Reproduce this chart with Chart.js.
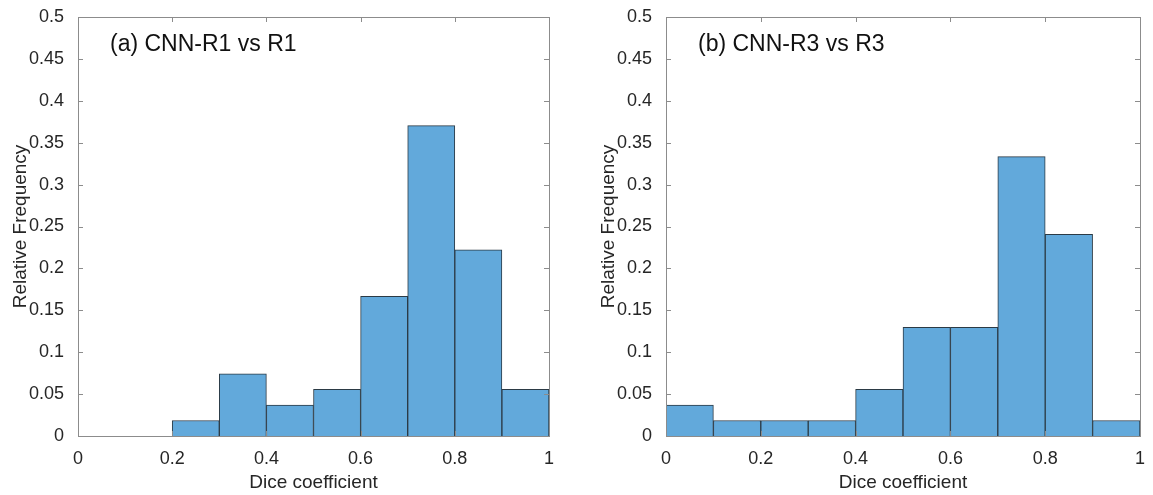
<!DOCTYPE html>
<html>
<head>
<meta charset="utf-8">
<script src="https://cdn.jsdelivr.net/npm/chart.js@4.4.0/dist/chart.umd.min.js"></script>
<style>
  body { margin: 0; background: #fff; width: 1153px; height: 495px; position: relative; overflow: hidden; }
  .box { position: absolute; top: 0; height: 495px; }
  #boxA { left: 0; width: 576px; }
  #boxB { left: 588px; width: 565px; }
</style>
</head>
<body>
<div class="box" id="boxA"><canvas id="chartA" width="576" height="495"></canvas></div>
<div class="box" id="boxB"><canvas id="chartB" width="565" height="495"></canvas></div>
<script>
// bin centres (width 0.1) and relative frequencies
const binCenters = [0.05, 0.15, 0.25, 0.35, 0.45, 0.55, 0.65, 0.75, 0.85, 0.95];
const freqR1 = [0, 0, 0.0185, 0.0741, 0.037, 0.0556, 0.1667, 0.3704, 0.2222, 0.0556];
const freqR3 = [0.037, 0.0185, 0.0185, 0.0185, 0.0556, 0.1296, 0.1296, 0.3333, 0.2407, 0.0185];
const xTicks = [0, 0.2, 0.4, 0.6, 0.8, 1];
const yTicks = [0, 0.05, 0.1, 0.15, 0.2, 0.25, 0.3, 0.35, 0.4, 0.45, 0.5];

const FONT = "'Liberation Sans', Arial, sans-serif";
const TEXT = "#262626";
const AXIS = "#8c8c8c";

// matlab-like box with inward ticks + panel label
const boxPlugin = {
  id: "boxPlugin",
  afterDraw(chart, args, opts) {
    const { ctx, chartArea: a, scales } = chart;
    ctx.save();
    ctx.strokeStyle = AXIS;
    ctx.lineWidth = 1;
    ctx.strokeRect(a.left + 0.5, a.top + 0.5, a.right - a.left, a.bottom - a.top);
    const t = 5;
    ctx.beginPath();
    xTicks.forEach((v) => {
      const px = Math.round(scales.x.getPixelForValue(v)) + 0.5;
      ctx.moveTo(px, a.bottom); ctx.lineTo(px, a.bottom - t);
      ctx.moveTo(px, a.top); ctx.lineTo(px, a.top + t);
    });
    yTicks.forEach((v) => {
      const py = Math.round(scales.y.getPixelForValue(v)) + 0.5;
      ctx.moveTo(a.left, py); ctx.lineTo(a.left + t, py);
      ctx.moveTo(a.right, py); ctx.lineTo(a.right - t, py);
    });
    ctx.stroke();
    ctx.fillStyle = "#111";
    ctx.font = "23px " + FONT;
    ctx.textBaseline = "middle";
    ctx.fillText(opts.label, a.left + 32, a.top + 28);
    ctx.restore();
  },
};

function makeChart(id, values, label, rightPad) {
  const ctx = document.getElementById(id).getContext("2d");
  return new Chart(ctx, {
    type: "bar",
    data: {
      datasets: [
        {
          data: binCenters.map((c, i) => ({ x: c, y: values[i] })),
          backgroundColor: "#62a9db",
          borderColor: "#2b3a45",
          borderWidth: 1,
          borderSkipped: "bottom",
          barPercentage: 1,
          categoryPercentage: 1,
        },
      ],
    },
    options: {
      responsive: false,
      animation: false,
      layout: { padding: { left: 9, right: rightPad, top: 17, bottom: 1 } },
      plugins: {
        legend: { display: false },
        tooltip: { enabled: false },
        boxPlugin: { label },
      },
      scales: {
        x: {
          type: "linear",
          offset: false,
          min: 0,
          max: 1,
          afterBuildTicks: (s) => { s.ticks = xTicks.map((v) => ({ value: v })); },
          afterFit: (s) => { s.height = 58; },
          grid: { display: false },
          border: { display: false },
          ticks: { color: TEXT, font: { family: FONT, size: 18 }, padding: 4, maxRotation: 0,
            callback: (v) => String(+v.toFixed(2)) },
          title: { display: true, text: "Dice coefficient", color: TEXT,
            font: { family: FONT, size: 19 }, padding: 0 },
        },
        y: {
          min: 0,
          max: 0.5,
          afterBuildTicks: (s) => { s.ticks = yTicks.map((v) => ({ value: v })); },
          afterFit: (s) => { s.width = 69; },
          grid: { display: false },
          border: { display: false },
          ticks: { color: TEXT, font: { family: FONT, size: 18 }, padding: 6,
            callback: (v) => String(+v.toFixed(2)) },
          title: { display: true, text: "Relative Frequency", color: TEXT,
            font: { family: FONT, size: 19 }, padding: 0 },
        },
      },
    },
    plugins: [boxPlugin],
  });
}

makeChart("chartA", freqR1, "(a) CNN-R1 vs R1", 27);
makeChart("chartB", freqR3, "(b) CNN-R3 vs R3", 13);
</script>
</body>
</html>
